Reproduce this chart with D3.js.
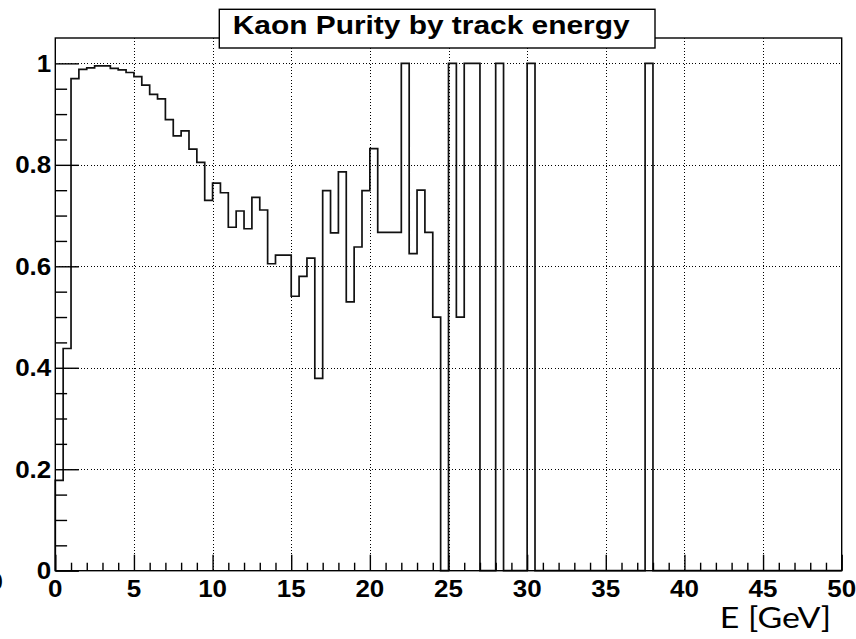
<!DOCTYPE html>
<html>
<head>
<meta charset="utf-8">
<script src="https://cdn.jsdelivr.net/npm/d3@7"></script>
<style>
  html, body { margin: 0; padding: 0; background: #fff; }
  svg { display: block; }
</style>
</head>
<body>
<script>
// ---- data ----
const title = "Kaon Purity by track energy";
const xLabel = "E [GeV]";
const xMin = 0, xMax = 50, binWidth = 0.5;
const purity = [
  0.178, 0.438, 0.970, 0.988, 0.991, 0.995, 0.995, 0.990, 0.987, 0.982,
  0.974, 0.957, 0.939, 0.930, 0.889, 0.857, 0.867, 0.831, 0.805, 0.730,
  0.764, 0.745, 0.677, 0.709, 0.674, 0.736, 0.711, 0.605, 0.622, 0.622,
  0.541, 0.580, 0.616, 0.379, 0.749, 0.666, 0.786, 0.530, 0.638, 0.749,
  0.832, 0.667, 0.667, 0.667, 1.000, 0.625, 0.750, 0.667, 0.500, 0,
  1.000, 0.500, 1.000, 1.000, 0, 0, 1.000, 0, 0, 0,
  1.000, 0, 0, 0, 0, 0, 0, 0, 0, 0,
  0, 0, 0, 0, 0, 1.000, 0, 0, 0, 0,
  0, 0, 0, 0, 0, 0, 0, 0, 0, 0,
  0, 0, 0, 0, 0, 0, 0, 0, 0, 0
];
const xTicks = [0, 5, 10, 15, 20, 25, 30, 35, 40, 45, 50];
const yTicks = [0, 0.2, 0.4, 0.6, 0.8, 1];
const yMax = 1.05;

// ---- layout ----
const W = 856, H = 639;
const frame = { left: 55.3, right: 841.7, top: 38, bottom: 570.7 };
const svg = d3.select("body").append("svg").attr("width", W).attr("height", H);

const x = d3.scaleLinear().domain([xMin, xMax]).range([frame.left, frame.right]);
const y = d3.scaleLinear().domain([0, yMax]).range([frame.bottom, frame.top]);

const labelFont = "'Liberation Sans', Arial, Helvetica, sans-serif";

// grid
const grid = svg.append("g").attr("stroke", "#000").attr("stroke-width", 1)
  .attr("stroke-dasharray", "1,2.2").attr("shape-rendering", "crispEdges");
xTicks.filter(t => t > xMin && t < xMax).forEach(t => {
  grid.append("line").attr("x1", Math.round(x(t)) + 0.5).attr("x2", Math.round(x(t)) + 0.5)
    .attr("y1", frame.top).attr("y2", frame.bottom);
});
yTicks.filter(t => t > 0).forEach(t => {
  grid.append("line").attr("y1", Math.round(y(t)) + 0.5).attr("y2", Math.round(y(t)) + 0.5)
    .attr("x1", frame.left).attr("x2", frame.right);
});

// histogram outline
const pts = [[x(xMin), y(0)]];
purity.forEach((v, i) => {
  const x0 = x(xMin + i * binWidth), x1 = x(xMin + (i + 1) * binWidth);
  pts.push([x0, y(v)], [x1, y(v)]);
});
pts.push([x(xMax), y(0)]);
svg.append("path")
  .attr("d", d3.line()(pts))
  .attr("fill", "none").attr("stroke", "#111").attr("stroke-width", 1.7);

// frame
svg.append("rect")
  .attr("x", frame.left).attr("y", frame.top)
  .attr("width", frame.right - frame.left).attr("height", frame.bottom - frame.top)
  .attr("fill", "none").attr("stroke", "#000").attr("stroke-width", 1.4);

// axes with inside ticks (ROOT style)
const plotW = frame.right - frame.left, plotH = frame.bottom - frame.top;
const xMajorLen = 0.03 * plotH, yMajorLen = 0.03 * plotW;
const xAxis = d3.axisBottom(x).tickValues(d3.range(xMin, xMax + 0.001, 1))
  .tickSize(0).tickFormat("");
const gx = svg.append("g").attr("transform", `translate(0,${frame.bottom})`).call(xAxis);
gx.select(".domain").remove();
gx.selectAll(".tick line")
  .attr("y2", d => (d % 5 === 0 ? -xMajorLen : -xMajorLen / 2))
  .attr("stroke", "#000").attr("stroke-width", 1.4);
gx.selectAll(".tick text").remove();

const yAxis = d3.axisLeft(y).tickValues(d3.range(0, 1.0001, 0.05)).tickSize(0).tickFormat("");
const gy = svg.append("g").attr("transform", `translate(${frame.left},0)`).call(yAxis);
gy.select(".domain").remove();
gy.selectAll(".tick line")
  .attr("x2", d => (Math.abs(d * 5 - Math.round(d * 5)) < 1e-6 ? yMajorLen : yMajorLen / 2))
  .attr("stroke", "#000").attr("stroke-width", 1.4);
gy.selectAll(".tick text").remove();

// tick labels
const sx = 1.13;
function lab(g, txt, px, py, anchor) {
  g.append("text")
    .attr("transform", `translate(${px},${py}) scale(${sx},1)`)
    .attr("text-anchor", anchor)
    .attr("font-family", labelFont).attr("font-weight", "bold")
    .attr("font-size", 23).attr("fill", "#000")
    .text(txt);
}
const labels = svg.append("g");
xTicks.forEach(t => lab(labels, d3.format("")(t), x(t), frame.bottom + 26.5, "middle"));
yTicks.forEach(t => lab(labels, d3.format("")(t), frame.left - 4, y(t) + 8.3, "end"));
// fragment of a label cut by the left image edge
lab(labels, "0", 3, frame.bottom + 19.5, "end");

// title box
const tb = { x0: 219.3, x1: 655, y0: 9.3, y1: 48 };
svg.append("rect")
  .attr("x", tb.x0).attr("y", tb.y0).attr("width", tb.x1 - tb.x0).attr("height", tb.y1 - tb.y0)
  .attr("fill", "#fff").attr("stroke", "#000").attr("stroke-width", 1.4);
svg.append("text")
  .attr("transform", `translate(${(tb.x0 + tb.x1) / 2 - 6},${33.8}) scale(1.15,1)`)
  .attr("text-anchor", "middle")
  .attr("font-family", labelFont).attr("font-weight", "bold")
  .attr("font-size", 26).attr("fill", "#000")
  .text(title);

// x axis title
svg.append("text")
  .attr("transform", `translate(831,628) scale(1.21,1)`)
  .attr("text-anchor", "end")
  .attr("font-family", "Lato, 'Open Sans', sans-serif")
  .attr("font-size", 28).attr("fill", "#000")
  .text(xLabel);
</script>
</body>
</html>
